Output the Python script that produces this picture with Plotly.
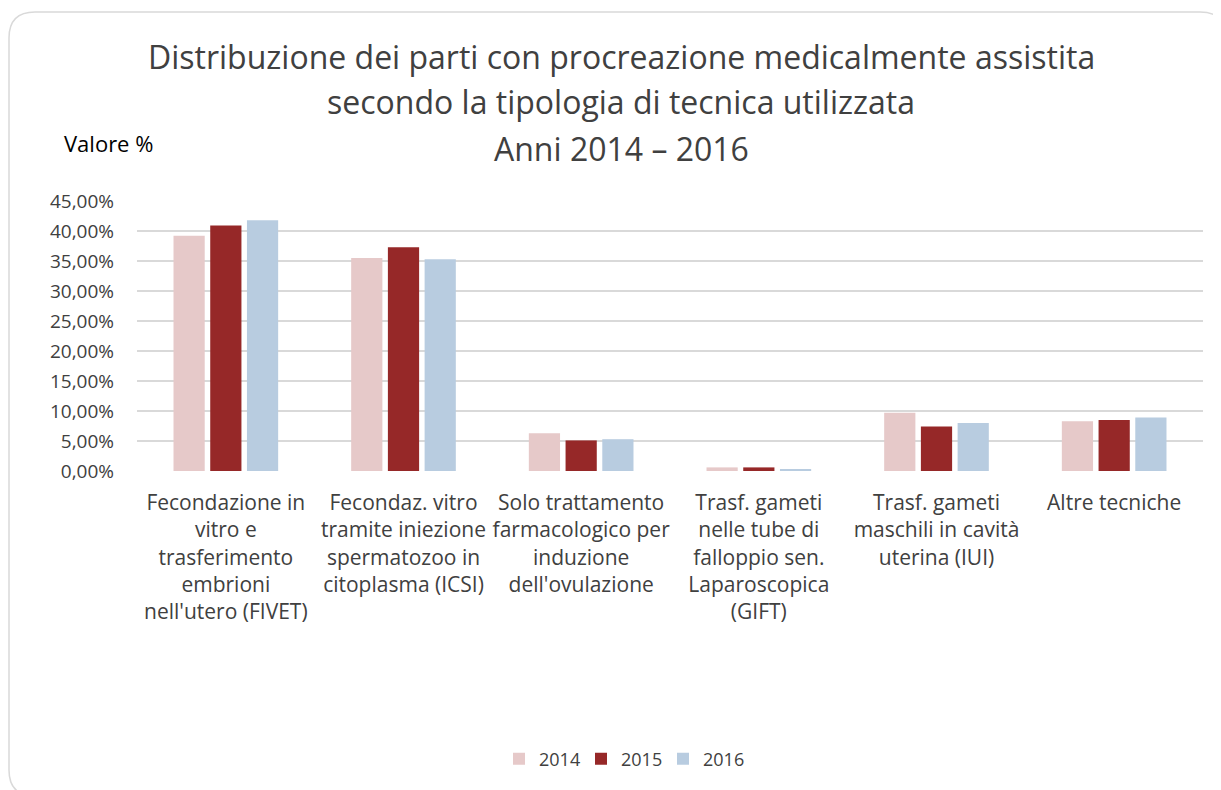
import plotly.graph_objects as go

categories = [
    "Fecondazione in<br>vitro e<br>trasferimento<br>embrioni<br>nell'utero (FIVET)",
    "Fecondaz. vitro<br>tramite iniezione<br>spermatozoo in<br>citoplasma (ICSI)",
    "Solo trattamento<br>farmacologico per<br>induzione<br>dell'ovulazione",
    "Trasf. gameti<br>nelle tube di<br>falloppio sen.<br>Laparoscopica<br>(GIFT)",
    "Trasf. gameti<br>maschili in cavità<br>uterina (IUI)",
    "Altre tecniche",
]
years = ["2014", "2015", "2016"]
v2014 = [39.2, 35.5, 6.3, 0.6, 9.7, 8.3]
v2015 = [40.9, 37.3, 5.1, 0.6, 7.4, 8.5]
v2016 = [41.8, 35.3, 5.3, 0.35, 8.0, 8.9]
colors = ["#e6c9c9", "#962828", "#b8cce0"]
tickvals = [0, 5, 10, 15, 20, 25, 30, 35, 40, 45]
ticktext = [f"{v:.2f}".replace(".", ",") + "%" for v in tickvals]

OFF = 8  # page body offset
W, H = 1213, 782
ML, MT = 137 - OFF, 201 - OFF
PW, PH = 1066, 270
MR, MB = W - ML - PW, H - MT - PH

def px(x):
    return (x - OFF - ML) / PW

def py(y):
    return (MT + PH - (y - OFF)) / PH

fig = go.Figure()
for name, vals, col in zip(years, [v2014, v2015, v2016], colors):
    fig.add_trace(go.Bar(x=categories, y=vals, name=name, marker_color=col,
                         marker_line_width=0))

font_fam = "Open Sans, Liberation Sans, sans-serif"
txt = "#404040"

# rounded border
x0, y0, x1, y1, r = 9, 12, 1226, 796, 26
path = (f"M {px(x0+r)},{py(y0)} L {px(x1-r)},{py(y0)} Q {px(x1)},{py(y0)} {px(x1)},{py(y0+r)} "
        f"L {px(x1)},{py(y1-r)} Q {px(x1)},{py(y1)} {px(x1-r)},{py(y1)} "
        f"L {px(x0+r)},{py(y1)} Q {px(x0)},{py(y1)} {px(x0)},{py(y1-r)} "
        f"L {px(x0)},{py(y0+r)} Q {px(x0)},{py(y0)} {px(x0+r)},{py(y0)} Z")
fig.add_shape(type="path", path=path, xref="paper", yref="paper",
              line=dict(color="#d9d9d9", width=1.5), layer="below")

title_lines = [
    ("Distribuzione dei parti con procreazione medicalmente assistita", 57),
    ("secondo la tipologia di tecnica utilizzata", 102),
    ("Anni 2014 – 2016", 148),
]
for t, yy in title_lines:
    fig.add_annotation(text=t, x=px(621), y=py(yy), xref="paper", yref="paper",
                       showarrow=False, xanchor="center", yanchor="middle",
                       font=dict(size=32, color=txt, family=font_fam))
fig.add_annotation(text="Valore %", x=px(62), y=py(143), xref="paper", yref="paper",
                   showarrow=False, xanchor="left", yanchor="middle",
                   font=dict(size=22, color="#000000", family=font_fam))

fig.update_layout(
    width=W, height=H,
    margin=dict(l=ML, r=MR, t=MT, b=MB),
    paper_bgcolor="white", plot_bgcolor="white",
    barmode="group", bargap=0.38, bargroupgap=0.15,
    font=dict(family=font_fam, color=txt),
    showlegend=True,
    legend=dict(orientation="h", x=px(622), xanchor="center", y=py(759), yanchor="middle",
                font=dict(size=18, color=txt), traceorder="normal",
                entrywidth=37, itemwidth=30),
)
fig.update_xaxes(showgrid=False, showline=False, ticks="", tickangle=0,
                 tickfont=dict(size=21, color=txt), ticklabelstandoff=17)
fig.update_yaxes(range=[0, 45], tickvals=tickvals, ticktext=ticktext,
                 showgrid=True, gridcolor="#d9d9d9", gridwidth=1.5, zeroline=False,
                 showline=False, ticks="", tickfont=dict(size=19, color=txt),
                 ticklabelstandoff=22)

fig.write_html("out.html")
